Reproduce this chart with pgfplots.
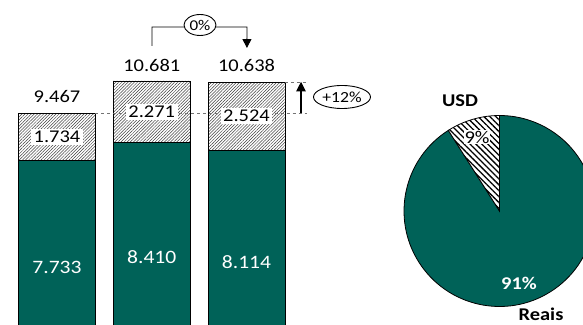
\documentclass[border=0pt]{standalone}
\usepackage{pgfplots}
\pgfplotsset{compat=1.18}
\usepackage{pgfplotstable}
\usetikzlibrary{patterns.meta,arrows.meta}
\usepackage{fontspec}
\setmainfont{Carlito}[FakeStretch=1.14]
\definecolor{myteal}{RGB}{0,98,88}

\pgfplotstableread{
x reais usd total
0 7.733 1.734 9.467
1 8.410 2.271 10.681
2 8.114 2.524 10.638
}\bars

\pgfplotstableread{
part share
Reais 91
USD 9
}\piedata

\begin{document}
\begin{tikzpicture}[font=\fontsize{18}{20}\selectfont]
\path[use as bounding box] (0,0) rectangle (583bp,325bp);
\clip (0,0) rectangle (583bp,325bp);
\pgfplotstablegetelem{1}{share}\of\piedata
\pgfmathsetmacro\usdang{90+3.6*\pgfplotsretval}
\begin{axis}[at={(0,0)}, anchor=south west, scale only axis,
  width=583bp, height=325bp, hide axis,
  xmin=-0.6016, xmax=5.551, ymin=1.644, ymax=13.68,
  ybar stacked, bar width=77bp]
\addplot[fill=myteal, draw=black, line width=0.8pt] table[x=x,y=reais]{\bars};
\addplot[draw=black, line width=0.8pt, pattern={Lines[angle=45,distance=2.2pt,line width=0.5pt]}, pattern color=black!75] table[x=x,y=usd]{\bars};
\coordinate (d1a) at (axis cs:0.406,9.467);
\coordinate (d1b) at (axis cs:2.639,9.467);
\coordinate (d2a) at (axis cs:2.406,10.638);
\coordinate (d2b) at (axis cs:2.639,10.638);
\coordinate (u1) at (axis cs:0,8.607);
\coordinate (u2) at (axis cs:1,9.53);
\coordinate (u3) at (axis cs:2,9.385);
\coordinate (r1) at (axis cs:0,3.79);
\coordinate (r2) at (axis cs:1,4.16);
\coordinate (r3) at (axis cs:2,3.98);
\coordinate (t1) at (axis cs:0,10.09);
\coordinate (t2) at (axis cs:1,11.27);
\coordinate (t3) at (axis cs:2,11.24);
\end{axis}
\begin{axis}[at={(0,0)}, anchor=south west, scale only axis,
  width=583bp, height=325bp, hide axis,
  xmin=0, xmax=583, ymin=0, ymax=325, clip=false]
\draw[black!55, dashed, line width=0.8pt] (d1a) -- (d1b);
\draw[black!55, dashed, line width=0.8pt] (d2a) -- (d2b);
\node[fill=white, inner sep=2.5pt] at (u1) {1.734};
\node[fill=white, inner sep=2.5pt] at (u2) {2.271};
\node[fill=white, inner sep=2.5pt] at (u3) {2.524};
\node[text=white, font=\fontsize{19}{21}\selectfont] at (r1) {7.733};
\node[text=white, font=\fontsize{19}{21}\selectfont] at (r2) {8.410};
\node[text=white, font=\fontsize{19}{21}\selectfont] at (r3) {8.114};
\node at (t1) {9.467};
\node at (t2) {10.681};
\node at (t3) {10.638};
\filldraw[fill=myteal, draw=black, line width=0.8pt] (axis cs:499.5,114) -- ++(\usdang:95.5bp) arc[start angle=\usdang, end angle=450, radius=95.5bp] -- cycle;
\filldraw[fill=white, draw=black, line width=0.8pt] (axis cs:499.5,114) -- ++(90:95.5bp) arc[start angle=90, end angle=\usdang, radius=95.5bp] -- cycle;
\path[pattern={Lines[angle=-45,distance=4.2pt,line width=1.3pt]}, pattern color=black] (axis cs:499.5,114) -- ++(90:95.5bp) arc[start angle=90, end angle=\usdang, radius=95.5bp] -- cycle;
\node[fill=white, inner sep=1pt] at (axis cs:477,188) {9\%};
\node[font=\fontsize{18}{20}\selectfont\bfseries] at (axis cs:460,224) {USD};
\node[text=white, font=\fontsize{18}{20}\selectfont\bfseries] at (axis cs:519,42) {91\%};
\node[font=\fontsize{18}{20}\selectfont\bfseries] at (axis cs:541,11) {Reais};
% bracket 0%
\draw[line width=0.9pt, -{Triangle[length=9pt,width=9pt]}] (axis cs:152,279) -- (axis cs:152,298) -- (axis cs:247,298) -- (axis cs:246.9,277);
\filldraw[fill=white, draw=black, line width=0.9pt] (axis cs:200,300) ellipse[x radius=16bp, y radius=10.5bp];
\node[font=\fontsize{15}{16}\selectfont] at (axis cs:200,300) {0\%};
% +12%
\draw[line width=2.5pt, -{Triangle[length=10pt,width=9pt]}] (axis cs:301,212) -- (axis cs:301,243.5);
\draw[line width=0.9pt] (axis cs:342,228) ellipse[x radius=28.5bp, y radius=11.5bp];
\node[font=\fontsize{15.5}{16}\selectfont] at (axis cs:342,228) {+12\%};
\end{axis}
\end{tikzpicture}
\end{document}
